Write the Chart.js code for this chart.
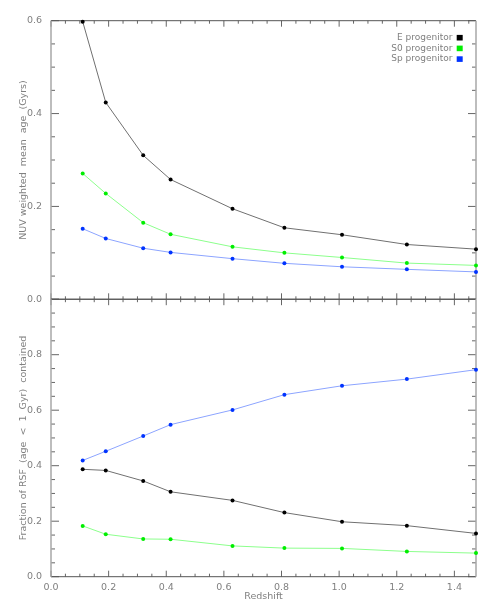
<!DOCTYPE html>
<html>
<head>
<meta charset="utf-8">
<script src="https://cdn.jsdelivr.net/npm/chart.js@4/dist/chart.umd.min.js"></script>
<style>
  html, body { margin: 0; padding: 0; background: #fff; }
  #wrap { position: relative; width: 485px; height: 606px; }
  canvas { position: absolute; left: 0; top: 0; }
</style>
</head>
<body>
<div id="wrap">
  <canvas id="topChart" width="485" height="606"></canvas>
  <canvas id="bottomChart" width="485" height="606"></canvas>
</div>
<script>
// ---- data ----
const seriesNames = ['E progenitor', 'S0 progenitor', 'Sp progenitor'];
const redshift = [0.11, 0.19, 0.32, 0.415, 0.63, 0.81, 1.01, 1.235, 1.475];

const ageE  = [0.598, 0.424, 0.310, 0.258, 0.195, 0.154, 0.139, 0.118, 0.108];
const ageS0 = [0.271, 0.228, 0.165, 0.140, 0.113, 0.100, 0.090, 0.078, 0.073];
const ageSp = [0.152, 0.131, 0.110, 0.101, 0.0875, 0.0775, 0.070, 0.0645, 0.059];

const fracE  = [0.387, 0.383, 0.345, 0.306, 0.275, 0.231, 0.198, 0.184, 0.156];
const fracS0 = [0.183, 0.153, 0.136, 0.135, 0.111, 0.103, 0.102, 0.091, 0.085];
const fracSp = [0.419, 0.452, 0.507, 0.548, 0.601, 0.656, 0.688, 0.712, 0.746];

const xTicks = [0.0, 0.2, 0.4, 0.6, 0.8, 1.0, 1.2, 1.4];
const xTickLabels = ['0.0', '0.2', '0.4', '0.6', '0.8', '1.0', '1.2', '1.4'];
const topYTicks = [0.0, 0.2, 0.4, 0.6];
const topYTickLabels = ['0.0', '0.2', '0.4', '0.6'];
const botYTicks = [0.0, 0.2, 0.4, 0.6, 0.8];
const botYTickLabels = ['0.0', '0.2', '0.4', '0.6', '0.8'];

// ---- styles ----
const pointColors = ['#000000', '#00ee00', '#0033ff'];
const lineColors = ['#707070', '#8cff8c', '#8ca4ff'];
const textColor = '#808080';
const FONT = 'DejaVu Sans';

Chart.defaults.font.family = FONT;
Chart.defaults.font.size = 9.5;
Chart.defaults.color = textColor;

function pts(xs, ys) { return xs.map((x, i) => ({ x: x, y: ys[i] })); }

function makeDatasets(seriesList) {
  return seriesList.map((vals, i) => ({
    label: seriesNames[i],
    data: pts(redshift, vals),
    borderColor: lineColors[i],
    backgroundColor: pointColors[i],
    pointBackgroundColor: pointColors[i],
    pointBorderColor: pointColors[i],
    pointRadius: 2,
    pointBorderWidth: 0,
    borderWidth: 1,
    tension: 0,
    clip: false
  }));
}

function fixedTicks(values, labels) {
  return {
    afterBuildTicks: s => { s.ticks = values.map(v => ({ value: v })); },
    ticks: {
      callback: function (v) {
        const k = values.findIndex(t => Math.abs(t - v) < 1e-9);
        return k >= 0 ? labels[k] : '';
      }
    }
  };
}

// IDL-style frame with inward ticks on all four sides
const idlAxes = {
  id: 'idlAxes',
  beforeDatasetsDraw(chart) {
    const { ctx, chartArea: a } = chart;
    const xs = chart.scales.x, ys = chart.scales.y;
    ctx.save();
    ctx.lineWidth = 1;
    ctx.strokeStyle = '#666';
    for (let k = 0; ; k++) {
      const v = k * 0.05;
      if (v > xs.max + 1e-9) break;
      const px = xs.getPixelForValue(v);
      const len = (k % 4 === 0) ? 6 : 3;
      ctx.beginPath();
      ctx.moveTo(px, a.top); ctx.lineTo(px, a.top + len);
      ctx.moveTo(px, a.bottom); ctx.lineTo(px, a.bottom - len);
      ctx.stroke();
    }
    for (let k = 0; ; k++) {
      const v = k * 0.05;
      if (v > ys.max + 1e-9) break;
      const py = ys.getPixelForValue(v);
      const len = (k % 4 === 0) ? 8 : 4;
      ctx.beginPath();
      ctx.moveTo(a.left, py); ctx.lineTo(a.left + len, py);
      ctx.moveTo(a.right, py); ctx.lineTo(a.right - len, py);
      ctx.stroke();
    }
    ctx.strokeStyle = '#555';
    ctx.lineWidth = 1;
    ctx.beginPath();
    ctx.moveTo(a.left, a.top); ctx.lineTo(a.right, a.top);
    ctx.moveTo(a.left, a.bottom); ctx.lineTo(a.right, a.bottom);
    ctx.stroke();
    ctx.strokeStyle = '#a8a8a8';
    ctx.lineWidth = 1.5;
    ctx.beginPath();
    ctx.moveTo(a.left, a.top); ctx.lineTo(a.left, a.bottom);
    ctx.moveTo(a.right, a.top); ctx.lineTo(a.right, a.bottom);
    ctx.stroke();
    ctx.restore();
  }
};

const idlLegend = {
  id: 'idlLegend',
  afterDraw(chart) {
    const { ctx, chartArea: a } = chart;
    ctx.save();
    ctx.font = '9px "' + FONT + '"';
    ctx.textAlign = 'right';
    ctx.textBaseline = 'middle';
    chart.data.datasets.forEach((ds, i) => {
      const yy = a.top + 17 + i * 10.7;
      ctx.fillStyle = textColor;
      ctx.fillText(ds.label, a.right - 23.5, yy);
      ctx.fillStyle = ds.pointBackgroundColor;
      ctx.fillRect(a.right - 19.3, yy - 2.8, 6, 5.6);
    });
    ctx.restore();
  }
};

const X_MAX = 1.475;

// ---- top panel ----
const topY = fixedTicks(topYTicks, topYTickLabels);
new Chart(document.getElementById('topChart'), {
  type: 'line',
  data: { datasets: makeDatasets([ageE, ageS0, ageSp]) },
  options: {
    responsive: false,
    animation: false,
    devicePixelRatio: 1,
    layout: { padding: { left: 0, right: 9, top: 20.7, bottom: 306.7 } },
    plugins: { legend: { display: false }, tooltip: { enabled: false } },
    scales: {
      x: { type: 'linear', min: 0, max: X_MAX, display: false },
      y: {
        type: 'linear', min: 0, max: 0.6,
        afterBuildTicks: topY.afterBuildTicks,
        afterFit: s => { s.width = 51; },
        grid: { display: false },
        border: { display: false },
        ticks: { callback: topY.ticks.callback, padding: 1, color: textColor },
        title: {
          display: true, text: 'NUV weighted  mean  age  (Gyrs)', color: textColor,
          padding: { top: 17.6, bottom: 0 }
        }
      }
    }
  },
  plugins: [idlAxes, idlLegend]
});

// ---- bottom panel ----
const botX = fixedTicks(xTicks, xTickLabels);
const botY = fixedTicks(botYTicks, botYTickLabels);
new Chart(document.getElementById('bottomChart'), {
  type: 'line',
  data: { datasets: makeDatasets([fracE, fracS0, fracSp]) },
  options: {
    responsive: false,
    animation: false,
    devicePixelRatio: 1,
    layout: { padding: { left: 0, right: 9, top: 299.2, bottom: 0 } },
    plugins: { legend: { display: false }, tooltip: { enabled: false } },
    scales: {
      x: {
        type: 'linear', min: 0, max: X_MAX,
        afterBuildTicks: botX.afterBuildTicks,
        afterFit: s => { s.height = 29.3; },
        grid: { display: false },
        border: { display: false },
        ticks: { callback: botX.ticks.callback, padding: -3, maxRotation: 0, color: textColor },
        title: {
          display: true, text: 'Redshift', color: textColor,
          padding: { top: 0, bottom: 3.6 }
        }
      },
      y: {
        type: 'linear', min: 0, max: 1.0,
        afterBuildTicks: botY.afterBuildTicks,
        afterFit: s => { s.width = 51; },
        grid: { display: false },
        border: { display: false },
        ticks: { callback: botY.ticks.callback, padding: 1, color: textColor },
        title: {
          display: true, text: 'Fraction of RSF  (age  <  1  Gyr)  contained', color: textColor,
          padding: { top: 17.6, bottom: 0 }
        }
      }
    }
  },
  plugins: [idlAxes]
});
</script>
</body>
</html>
